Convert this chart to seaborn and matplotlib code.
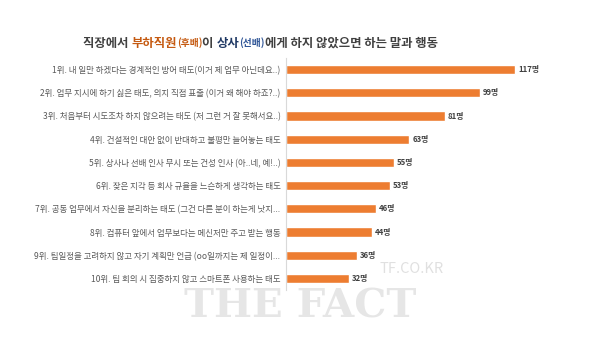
import matplotlib
matplotlib.use("Agg")
import matplotlib.pyplot as plt
import seaborn as sns
import pandas as pd

# data
labels = [
    "1위. 내 일만 하겠다는 경계적인 방어 태도(이거 제 업무 아닌데요..)",
    "2위. 업무 지시에 하기 싫은 태도, 의지 직접 표출 (이거 왜 해야 하죠?..)",
    "3위. 처음부터 시도조차 하지 않으려는 태도 (저 그런 거 잘 못해서요..)",
    "4위. 건설적인 대안 없이 반대하고 불평만 늘어놓는 태도",
    "5위. 상사나 선배 인사 무시 또는 건성 인사 (아..네, 예!..)",
    "6위. 잦은 지각 등 회사 규율을 느슨하게 생각하는 태도",
    "7위. 공동 업무에서 자신을 분리하는 태도 (그건 다른 분이 하는게 낫지...",
    "8위. 컴퓨터 앞에서 업무보다는 메신저만 주고 받는 행동",
    "9위. 팀일정을 고려하지 않고 자기 계획만 언급 (oo일까지는 제 일정이...",
    "10위. 팀 회의 시 집중하지 않고 스마트폰 사용하는 태도",
]
counts = [117, 99, 81, 63, 55, 53, 46, 44, 36, 32]
unit = "명"

df = pd.DataFrame({"label": labels, "count": counts})

sns.set_theme(style="white")
plt.rcParams['font.family'] = ['Noto Sans CJK KR', 'DejaVu Sans']

fig = plt.figure(figsize=(6, 3.38), dpi=100)
ax = fig.add_axes([286/600, 1-290/338, 294/600, 232/338])

sns.barplot(data=df, x="count", y="label", orient="h", color="#ED7D31",
            saturation=1, width=0.4, ax=ax)
ax.set_xlim(0, 150)
ax.set_ylim(9.5, -0.5)
ax.set_xlabel("")
ax.set_ylabel("")
ax.set_xticks([])
ax.tick_params(axis="y", length=0, labelsize=6.1, labelcolor="#595959", pad=4)
for s in ["top", "right", "bottom"]:
    ax.spines[s].set_visible(False)
ax.spines["left"].set_color("#d9d9d9")
ax.spines["left"].set_linewidth(0.8)

for i, v in enumerate(counts):
    ax.text(v + 1.5, i, f"{v}{unit}", va="center", ha="left",
            fontsize=5.6, color="#404040", fontweight="bold")

# multi-coloured title
parts = [
    ("직장에서 ", "#404040", 8.9),
    ("부하직원", "#C55A11", 8.9),
    ("(후배)", "#C55A11", 7),
    ("이 ", "#404040", 8.9),
    ("상사", "#1F3864", 8.9),
    ("(선배)", "#2F5597", 7),
    ("에게 하지 않았으면 하는 말과 행동", "#404040", 8.9),
]
fig.canvas.draw()
renderer = fig.canvas.get_renderer()
x = 83 / 600
for txt, col, size in parts:
    t = fig.text(x, 1 - 43/338, txt, color=col, fontsize=size,
                 fontweight="bold", va="center", ha="left")
    bb = t.get_window_extent(renderer=renderer)
    x += bb.width / fig.bbox.width

# watermark
fig.text(0.5, 1 - 307/338, "THE FACT", fontsize=29, fontweight="bold",
         color="#e6e6e6", ha="center", va="center", family="DejaVu Serif",
         zorder=0)
fig.text(380/600, 1 - 269/338, "TF.CO.KR", fontsize=10.5, color="#e0e0e0",
         ha="left", va="center", zorder=0)

fig.savefig("out.png", dpi=100, facecolor="white")
